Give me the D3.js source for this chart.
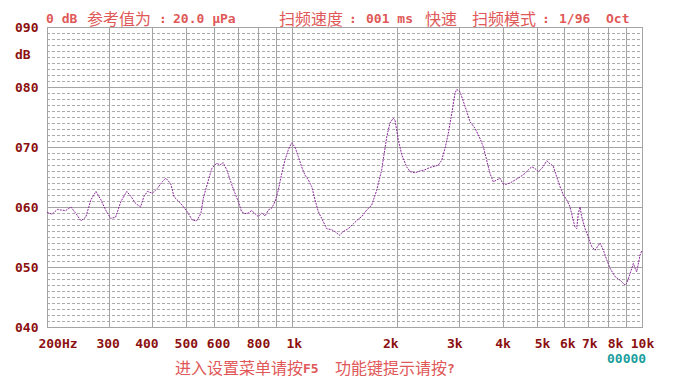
<!DOCTYPE html>
<html lang="zh">
<head>
<meta charset="utf-8">
<script src="https://d3js.org/d3.v7.min.js"></script>
<style>
  body { margin: 0; background: #fff; }
  svg { display: block; }
</style>
</head>
<body>
<div id="chart"></div>
<script>
// frequency response
const freqs = [
  200, 207, 214, 219, 226, 234, 242, 250, 258, 267,
  276, 285, 294, 304, 314, 325, 338, 348, 358, 370,
  378, 387, 400, 413, 427, 437, 451, 461, 482, 503,
  520, 535, 550, 559, 578, 591, 610, 624, 637, 652,
  674, 688, 704, 719, 735, 751, 768, 785, 802, 821,
  839, 857, 876, 896, 915, 936, 956, 977, 999, 1021,
  1044, 1067, 1091, 1115, 1140, 1165, 1191, 1217, 1258, 1300,
  1329, 1367, 1403, 1450, 1499, 1549, 1584, 1637, 1691, 1748,
  1806, 1867, 1907, 1949, 1971, 2014, 2060, 2128, 2176, 2248,
  2323, 2401, 2482, 2565, 2621, 2680, 2739, 2799, 2863, 2926,
  2958, 3023, 3089, 3159, 3229, 3337, 3448, 3524, 3602, 3681,
  3762, 3848, 3932, 4018, 4109, 4199, 4340, 4485, 4634, 4736,
  4844, 4950, 5058, 5173, 5346, 5462, 5582, 5709, 5834, 5962,
  6096, 6230, 6341, 6437, 6510, 6578, 6653, 6727, 6876, 7027,
  7186, 7343, 7590, 7756, 7931, 8103, 8375, 8656, 8946, 9046,
  9245, 9448, 9553, 9660, 9872, 10000
];
const levels = [
  59.1, 58.8, 59.6, 59.5, 59.4, 60.0, 58.9, 57.7, 58.3, 61.2,
  62.6, 61.2, 59.5, 58.1, 58.3, 60.9, 62.6, 61.7, 60.6, 60.0,
  61.7, 62.6, 62.3, 63.1, 64.2, 64.8, 63.9, 61.7, 60.6, 59.2,
  57.8, 57.7, 58.9, 61.5, 64.5, 66.4, 67.3, 67.0, 67.4, 66.2,
  63.7, 62.3, 60.9, 59.2, 58.9, 59.0, 59.4, 58.9, 58.4, 59.0,
  58.5, 59.5, 59.8, 60.9, 62.8, 65.6, 67.8, 69.5, 70.7, 70.0,
  68.4, 66.7, 65.3, 64.5, 63.4, 61.2, 59.2, 58.1, 56.4, 56.2,
  55.9, 55.3, 55.9, 56.4, 57.2, 58.0, 58.4, 59.5, 60.3, 62.8,
  66.2, 71.7, 74.0, 74.8, 74.5, 71.2, 68.7, 66.7, 65.9, 65.7,
  66.0, 66.2, 66.6, 66.8, 67.0, 67.8, 69.8, 72.3, 75.6, 79.0,
  79.6, 79.2, 77.6, 75.9, 74.2, 73.1, 71.4, 70.0, 67.8, 65.6,
  64.2, 64.5, 64.8, 63.8, 63.8, 64.0, 64.5, 65.0, 65.6, 66.2,
  66.7, 66.4, 65.9, 66.4, 67.7, 67.2, 66.8, 65.0, 63.4, 62.0,
  61.2, 60.0, 58.1, 56.7, 56.4, 58.9, 60.0, 58.4, 56.4, 55.0,
  53.4, 52.8, 54.0, 52.8, 51.2, 49.8, 48.4, 47.8, 47.0, 47.3,
  48.9, 50.6, 49.8, 49.2, 52.0, 52.8
];

const gridFreqs = [200, 300, 400, 500, 600, 700, 800, 900, 1000,
                   2000, 3000, 4000, 5000, 6000, 7000, 8000, 9000, 10000];
const tickFreqs = [200, 300, 400, 500, 600, 800, 1000, 2000, 3000, 4000, 5000, 6000, 7000, 8000, 10000];
const tickLabels = ["200Hz", "300", "400", "500", "600", "800", "1k", "2k", "3k", "4k", "5k", "6k", "7k", "8k", "10k"];
const dbTicks = [40, 50, 60, 70, 80, 90];
const dbLabels = ["040", "050", "060", "070", "080", "090"];

// label nudges as the device prints them (px)
const tickNudge = [11, -0.5, -5.5, 0, 4.5, 0.7, 2.5, -6.5, -4, 0.5, 6, 3.5, 2, 7.5, 0.5];

const W = 679, H = 382;
const L = 47, R = 642, T = 27, B = 327;
const mono = "'DejaVu Sans Mono', 'Liberation Mono', monospace";
const cjk = "'Noto Sans CJK SC', sans-serif";
const darkRed = "#8c1010", lightRed = "#e05858";

const svg = d3.select("#chart").append("svg").attr("width", W).attr("height", H);
svg.append("rect").attr("width", W).attr("height", H).attr("fill", "#fff");

const x = d3.scaleLog().domain([200, 10000]).range([L, R]);
const y = d3.scaleLinear().domain([40, 90]).range([B, T]);
const px = v => Math.round(v) + 0.5;

// dashed 1 dB lines
const minor = d3.range(41, 90).filter(d => d % 10 !== 0);
svg.append("g").selectAll("line").data(minor).join("line")
  .attr("x1", L).attr("x2", R)
  .attr("y1", d => px(y(d))).attr("y2", d => px(y(d)))
  .attr("stroke", "#ababab").attr("stroke-width", 1)
  .attr("stroke-dasharray", "3,2");

// solid grid
svg.append("g").selectAll("line").data(dbTicks).join("line")
  .attr("x1", L).attr("x2", R + 1)
  .attr("y1", d => px(y(d))).attr("y2", d => px(y(d)))
  .attr("stroke", "#a4a4a4");
svg.append("g").selectAll("line").data(gridFreqs).join("line")
  .attr("x1", d => px(x(d))).attr("x2", d => px(x(d)))
  .attr("y1", T).attr("y2", B + 1)
  .attr("stroke", "#a4a4a4");

// y labels
svg.append("g").selectAll("text").data(dbTicks).join("text")
  .attr("x", 38.5).attr("y", d => Math.round(y(d)) + 5)
  .attr("text-anchor", "end")
  .attr("font-family", mono).attr("font-weight", "bold").attr("font-size", 13)
  .attr("fill", darkRed)
  .text((d, i) => dbLabels[i]);
svg.append("text").attr("x", 15).attr("y", 59)
  .attr("font-family", mono).attr("font-weight", "bold").attr("font-size", 13)
  .attr("fill", darkRed).text("dB");

// x labels
svg.append("g").selectAll("text").data(tickFreqs).join("text")
  .attr("x", (d, i) => x(d) + tickNudge[i]).attr("y", 348)
  .attr("text-anchor", "middle")
  .attr("font-family", mono).attr("font-weight", "bold").attr("font-size", 13)
  .attr("fill", darkRed)
  .text((d, i) => tickLabels[i]);

// curve
const line = d3.line().x(d => x(d[0])).y(d => y(d[1]));
svg.append("path")
  .datum(freqs.map((f, i) => [f, levels[i]]))
  .attr("d", line)
  .attr("fill", "none")
  .attr("stroke", "#8b2a9b").attr("stroke-width", 1)
  .attr("stroke-dasharray", "2,1");

// header and footer text
function piece(t, px0, py, kind, color) {
  svg.append("text").attr("x", px0).attr("y", py)
    .attr("xml:space", "preserve")
    .attr("font-family", kind === "cjk" ? cjk : mono)
    .attr("font-weight", kind === "cjk" ? "normal" : "bold")
    .attr("font-size", kind === "cjk" ? 16 : 13)
    .attr("fill", color)
    .text(t);
}
piece("0 dB", 46, 23, "latin", lightRed);
piece("参考值为", 87, 25, "cjk", lightRed);
piece(":", 159, 23, "latin", lightRed);
piece("20.0 μPa", 173, 23, "latin", lightRed);
piece("扫频速度", 279, 25, "cjk", lightRed);
piece(":", 349, 23, "latin", lightRed);
piece("001 ms", 366, 23, "latin", lightRed);
piece("快速", 425, 25, "cjk", lightRed);
piece("扫频模式", 472, 25, "cjk", lightRed);
piece(":", 542, 23, "latin", lightRed);
piece("1/96", 559, 23, "latin", lightRed);
piece("Oct", 606, 23, "latin", lightRed);

piece("进入设置菜单请按", 175, 374, "cjk", lightRed);
piece("F5", 303, 373, "latin", lightRed);
piece("功能键提示请按", 335, 374, "cjk", lightRed);
piece("?", 447, 373, "latin", lightRed);

piece("00000", 607, 363, "latin", "#1a9e9e");
</script>
</body>
</html>
